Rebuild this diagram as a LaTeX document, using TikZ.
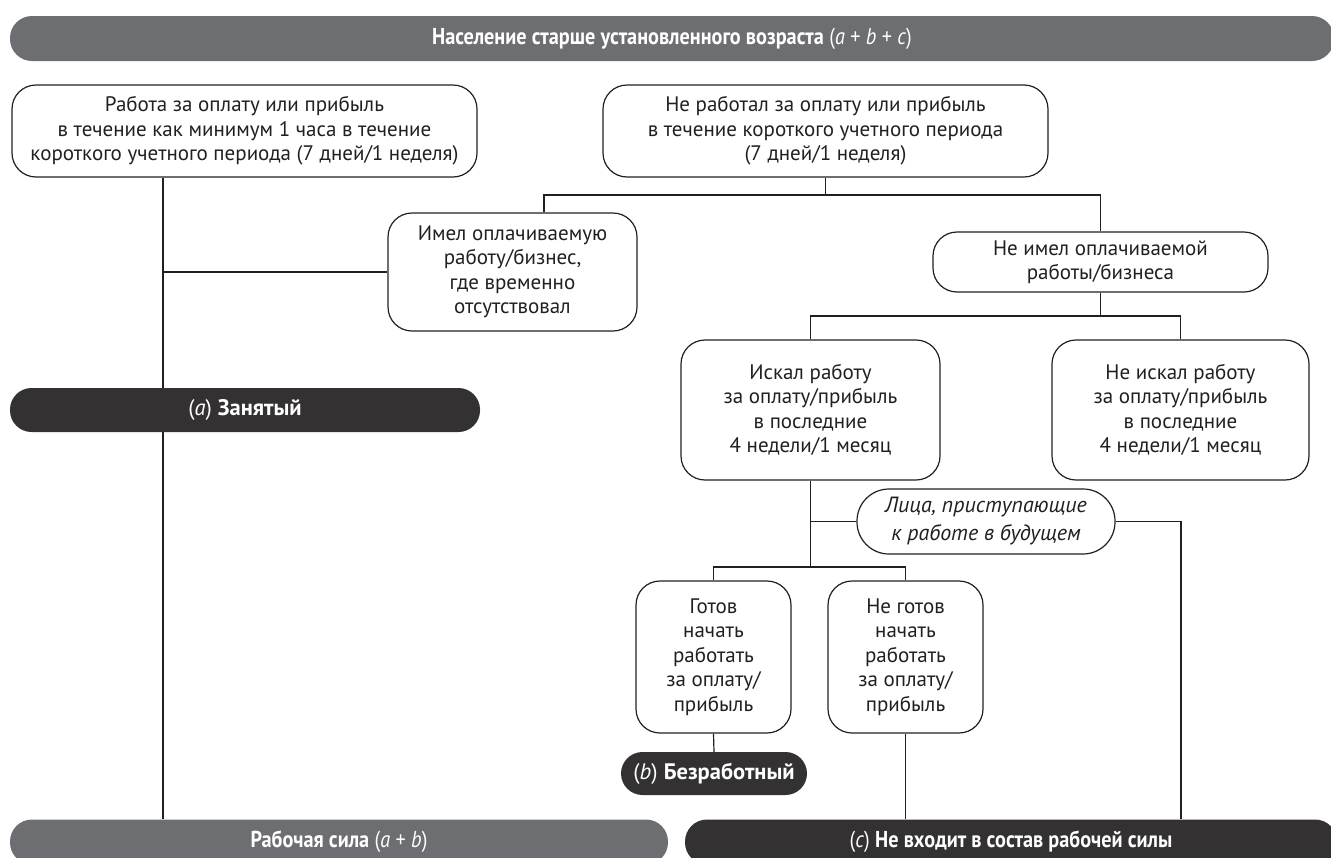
\documentclass[tikz,border=0pt]{standalone}
\usepackage{fontspec}
\setmainfont{PT Sans}
\newfontfamily\condfont[FakeStretch=0.88]{PT Sans}
\usetikzlibrary{calc}
\definecolor{lc}{HTML}{231F20}
\definecolor{bgrey}{HTML}{6D6E71}
\definecolor{bdark}{HTML}{333132}
\newcommand\boxfont{\fontsize{21}{24.5}\selectfont}
\newcommand\ellfont{\fontsize{22}{28}\selectfont\itshape}
\newcommand\banfont{\fontsize{23}{26}\selectfont\condfont}
\newcommand\pillfont{\fontsize{22.5}{25}\selectfont}
\tikzset{
  boxs/.style 2 args={draw=lc, line width=1.2pt, rounded corners=24pt, align=center,
    inner sep=0pt, minimum width=#1, minimum height=#2, font=\boxfont, text=lc},
  banner/.style 2 args={fill=#1, text=white, rounded corners=22pt, inner sep=0pt,
    minimum width=#2, minimum height=45pt, font=\banfont},
  pill/.style 2 args={fill=bdark, text=white, rounded corners=21.5pt, inner sep=0pt,
    minimum width=#1, minimum height=#2, font=\pillfont},
  conn/.style={draw=lc, line width=1.2pt},
}
\begin{document}
\begin{tikzpicture}[x=1pt,y=-1pt]
\useasboundingbox (0,0) rectangle (1331,857);
\clip (0,0) rectangle (1331,857);
% banners
\node[banner={bgrey}{1324}] (pop) at (672,38.5) {{\bfseries Население старше установленного возраста} (\textit{a} + \textit{b} + \textit{c})};
\node[banner={bgrey}{658}] (rs) at (339,842) {{\bfseries Рабочая сила} (\textit{a} + \textit{b})};
\node[banner={bdark}{652}] (nv) at (1011,842) {(\textit{c}) {\bfseries Не входит в состав рабочей силы}};
% boxes
\node[boxs={465}{92}] (L) at (244.5,131) {Работа за оплату или прибыль\\в течение как минимум 1 часа в течение\\короткого учетного периода (7 дней/1 неделя)};
\node[boxs={445}{92}] (R) at (825.5,131) {Не работал за оплату или прибыль\\в течение короткого учетного периода\\(7 дней/1 неделя)};
\node[boxs={249}{118}] (im) at (512.5,272) {Имел оплачиваемую\\работу/бизнес,\\где временно\\отсутствовал};
\node[boxs={335}{60}] (nim) at (1100.5,262) {Не имел оплачиваемой\\работы/бизнеса};
\node[boxs={259}{140}] (isk) at (810.5,410) {Искал работу\\за оплату/прибыль\\в последние\\4 недели/1 месяц};
\node[boxs={257}{140}] (nisk) at (1180.5,410) {Не искал работу\\за оплату/прибыль\\в последние\\4 недели/1 месяц};
\node[boxs={258}{65}, rounded corners=32pt, font=\ellfont] (ell) at (986,521.5) {Лица, приступающие\\к работе в будущем};
\node[boxs={155}{152}] (got) at (713.5,657) {Готов\\начать\\работать\\за оплату/\\прибыль};
\node[boxs={155}{152}] (ngot) at (905.5,657) {Не готов\\начать\\работать\\за оплату/\\прибыль};
% pills
\node[pill={470}{44}] (zan) at (245,410) {(\textit{a}) {\bfseries Занятый}};
\node[pill={186}{43}] (bez) at (714,773.5) {(\textit{b}) {\bfseries Безработный}};
% helper coordinates
\coordinate (xl) at (163,0);
\coordinate (j1) at (544,195);
\coordinate (j2) at (0,316);
\coordinate (j3) at (0,567);
\coordinate (xr) at (1181,0);
% connectors
\draw[conn] (L.south -| xl) -- (zan.north -| xl);
\draw[conn] (zan.south -| xl) -- (rs.north -| xl);
\draw[conn] (xl |- im.west) -- (im.west);
\draw[conn] (R.south) -- (R.south |- j1);
\draw[conn] (im.north -| j1) -- (j1) -| (nim.north);
\draw[conn] (nim.south) -- (nim.south |- j2);
\draw[conn] (isk.north) |- (nim.south |- j2) -| (nisk.north);
\draw[conn] (isk.south) -- (isk.south |- j3);
\draw[conn] (isk.south |- ell.west) -- (ell.west);
\draw[conn] (got.north) |- (isk.south |- j3) -| (ngot.north);
\draw[conn] (ell.east) -| (xr |- nv.north);
\draw[conn] (got.south) -- (bez.north);
\draw[conn] (ngot.south) -- (ngot.south |- nv.north);
\end{tikzpicture}
\end{document}
